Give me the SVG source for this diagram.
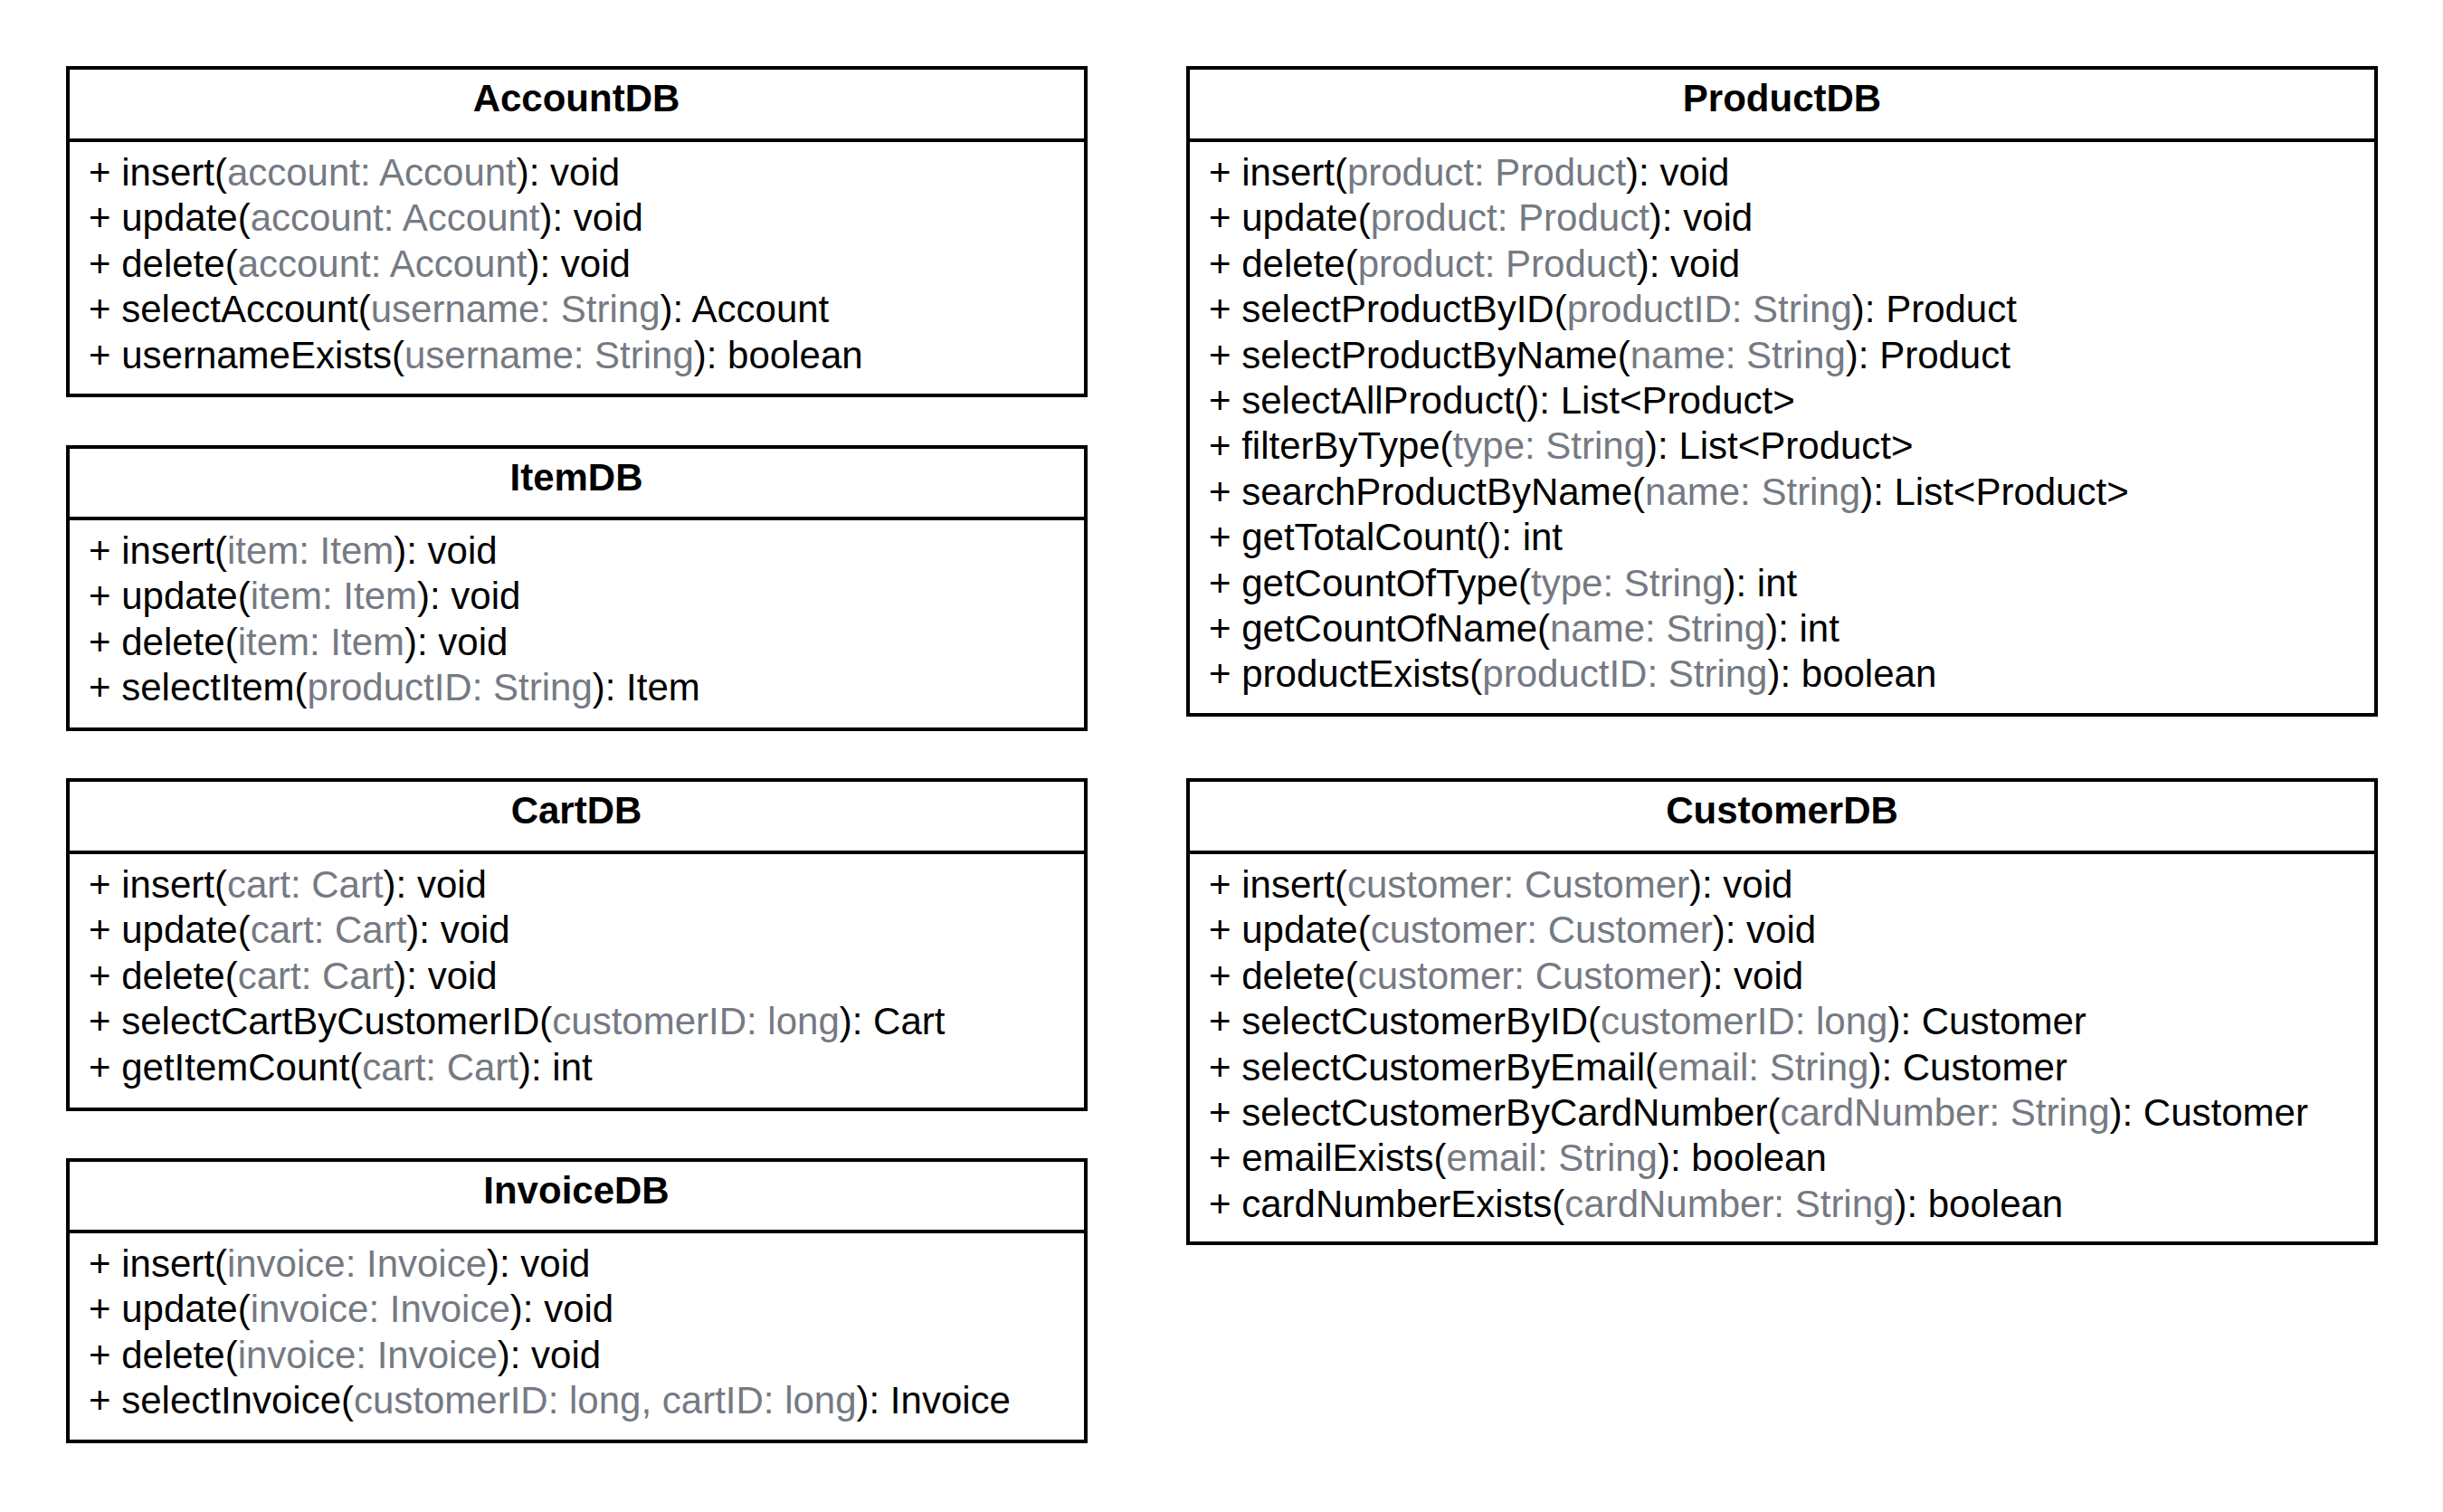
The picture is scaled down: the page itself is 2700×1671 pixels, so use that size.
<svg xmlns="http://www.w3.org/2000/svg" width="2700" height="1671" viewBox="0 0 2700 1671">
  <style>
    .box { fill: #ffffff; stroke: #000000; stroke-width: 4; }
    .sep { stroke: #000000; stroke-width: 4; }
    .title { font-family: "Liberation Sans", Arial, sans-serif; font-size: 42px; font-weight: bold; fill: #000000; text-anchor: middle; }
    .op { font-family: "Liberation Sans", Arial, sans-serif; font-size: 42px; fill: #000000; }
    .p { fill: #757a83; }
  </style>
  <rect width="2700" height="1671" fill="#ffffff"/>

  <!-- AccountDB -->
  <g id="AccountDB">
    <rect class="box" x="75" y="75" width="1125" height="362"/>
    <line class="sep" x1="75" y1="155" x2="1200" y2="155"/>
    <text class="title" x="637" y="123">AccountDB</text>
    <g transform="translate(0,2)">
      <text class="op" x="98" y="203">+ insert(<tspan class="p">account: Account</tspan>): void</text>
      <text class="op" x="98" y="253.4">+ update(<tspan class="p">account: Account</tspan>): void</text>
      <text class="op" x="98" y="303.8">+ delete(<tspan class="p">account: Account</tspan>): void</text>
      <text class="op" x="98" y="354.2">+ selectAccount(<tspan class="p">username: String</tspan>): Account</text>
      <text class="op" x="98" y="404.6">+ usernameExists(<tspan class="p">username: String</tspan>): boolean</text>
    </g>
  </g>

  <!-- ItemDB -->
  <g id="ItemDB">
    <rect class="box" x="75" y="494" width="1125" height="312"/>
    <line class="sep" x1="75" y1="573" x2="1200" y2="573"/>
    <text class="title" x="637" y="542">ItemDB</text>
    <g transform="translate(0,2)">
      <text class="op" x="98" y="621">+ insert(<tspan class="p">item: Item</tspan>): void</text>
      <text class="op" x="98" y="671.4">+ update(<tspan class="p">item: Item</tspan>): void</text>
      <text class="op" x="98" y="721.8">+ delete(<tspan class="p">item: Item</tspan>): void</text>
      <text class="op" x="98" y="772.2">+ selectItem(<tspan class="p">productID: String</tspan>): Item</text>
    </g>
  </g>

  <!-- CartDB -->
  <g id="CartDB">
    <rect class="box" x="75" y="862" width="1125" height="364"/>
    <line class="sep" x1="75" y1="942" x2="1200" y2="942"/>
    <text class="title" x="637" y="910">CartDB</text>
    <g transform="translate(0,2)">
      <text class="op" x="98" y="990">+ insert(<tspan class="p">cart: Cart</tspan>): void</text>
      <text class="op" x="98" y="1040.4">+ update(<tspan class="p">cart: Cart</tspan>): void</text>
      <text class="op" x="98" y="1090.8">+ delete(<tspan class="p">cart: Cart</tspan>): void</text>
      <text class="op" x="98" y="1141.2">+ selectCartByCustomerID(<tspan class="p">customerID: long</tspan>): Cart</text>
      <text class="op" x="98" y="1191.6">+ getItemCount(<tspan class="p">cart: Cart</tspan>): int</text>
    </g>
  </g>

  <!-- InvoiceDB -->
  <g id="InvoiceDB">
    <rect class="box" x="75" y="1282" width="1125" height="311"/>
    <line class="sep" x1="75" y1="1361" x2="1200" y2="1361"/>
    <text class="title" x="637" y="1330">InvoiceDB</text>
    <g transform="translate(0,2)">
      <text class="op" x="98" y="1409">+ insert(<tspan class="p">invoice: Invoice</tspan>): void</text>
      <text class="op" x="98" y="1459.4">+ update(<tspan class="p">invoice: Invoice</tspan>): void</text>
      <text class="op" x="98" y="1509.8">+ delete(<tspan class="p">invoice: Invoice</tspan>): void</text>
      <text class="op" x="98" y="1560.2">+ selectInvoice(<tspan class="p">customerID: long, cartID: long</tspan>): Invoice</text>
    </g>
  </g>

  <!-- ProductDB -->
  <g id="ProductDB">
    <rect class="box" x="1313" y="75" width="1313" height="715"/>
    <line class="sep" x1="1313" y1="155" x2="2626" y2="155"/>
    <text class="title" x="1969.5" y="123">ProductDB</text>
    <g transform="translate(0,2)">
      <text class="op" x="1336" y="203">+ insert(<tspan class="p">product: Product</tspan>): void</text>
      <text class="op" x="1336" y="253.4">+ update(<tspan class="p">product: Product</tspan>): void</text>
      <text class="op" x="1336" y="303.8">+ delete(<tspan class="p">product: Product</tspan>): void</text>
      <text class="op" x="1336" y="354.2">+ selectProductByID(<tspan class="p">productID: String</tspan>): Product</text>
      <text class="op" x="1336" y="404.6">+ selectProductByName(<tspan class="p">name: String</tspan>): Product</text>
      <text class="op" x="1336" y="455">+ selectAllProduct(): List&lt;Product&gt;</text>
      <text class="op" x="1336" y="505.4">+ filterByType(<tspan class="p">type: String</tspan>): List&lt;Product&gt;</text>
      <text class="op" x="1336" y="555.8">+ searchProductByName(<tspan class="p">name: String</tspan>): List&lt;Product&gt;</text>
      <text class="op" x="1336" y="606.2">+ getTotalCount(): int</text>
      <text class="op" x="1336" y="656.6">+ getCountOfType(<tspan class="p">type: String</tspan>): int</text>
      <text class="op" x="1336" y="707">+ getCountOfName(<tspan class="p">name: String</tspan>): int</text>
      <text class="op" x="1336" y="757.4">+ productExists(<tspan class="p">productID: String</tspan>): boolean</text>
    </g>
  </g>

  <!-- CustomerDB -->
  <g id="CustomerDB">
    <rect class="box" x="1313" y="862" width="1313" height="512"/>
    <line class="sep" x1="1313" y1="942" x2="2626" y2="942"/>
    <text class="title" x="1969.5" y="910">CustomerDB</text>
    <g transform="translate(0,2)">
      <text class="op" x="1336" y="990">+ insert(<tspan class="p">customer: Customer</tspan>): void</text>
      <text class="op" x="1336" y="1040.4">+ update(<tspan class="p">customer: Customer</tspan>): void</text>
      <text class="op" x="1336" y="1090.8">+ delete(<tspan class="p">customer: Customer</tspan>): void</text>
      <text class="op" x="1336" y="1141.2">+ selectCustomerByID(<tspan class="p">customerID: long</tspan>): Customer</text>
      <text class="op" x="1336" y="1191.6">+ selectCustomerByEmail(<tspan class="p">email: String</tspan>): Customer</text>
      <text class="op" x="1336" y="1242">+ selectCustomerByCardNumber(<tspan class="p">cardNumber: String</tspan>): Customer</text>
      <text class="op" x="1336" y="1292.4">+ emailExists(<tspan class="p">email: String</tspan>): boolean</text>
      <text class="op" x="1336" y="1342.8">+ cardNumberExists(<tspan class="p">cardNumber: String</tspan>): boolean</text>
    </g>
  </g>

  <!-- no connectors between the classes -->
  <g id="connectors"/>
</svg>
